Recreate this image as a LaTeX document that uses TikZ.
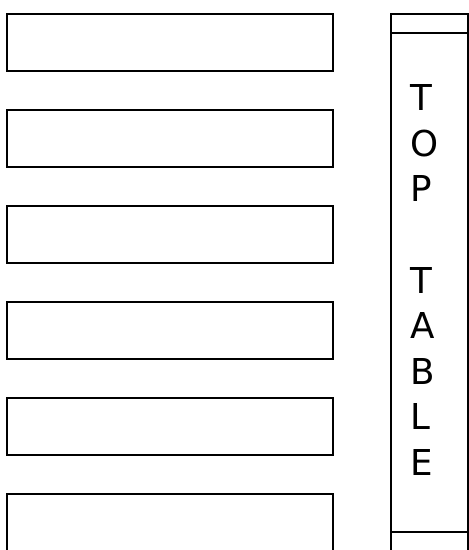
\documentclass[tikz,border=0pt]{standalone}
\usepackage{fontspec}
\newfontfamily\labelfont{DejaVu Sans}
\usetikzlibrary{positioning}

\begin{document}
\begin{tikzpicture}[
    x=0.02cm, y=-0.02cm,
    node distance=0.78cm,
    box/.style={rectangle, draw=black, line width=1.4pt, outer sep=0pt, minimum width=6.52cm, minimum height=1.14cm},
    column/.style={rectangle, draw=black, line width=1.4pt, outer sep=0pt, minimum width=1.54cm, minimum height=11.4cm},
    letter/.style={font=\labelfont\fontsize{20.3}{24}\selectfont, inner sep=0pt, anchor=base west}
]
\clip (0,0) rectangle (469,550);

% empty boxes on the left
\node[box, anchor=north west] (box1) at (7,14) {};
\foreach \i [evaluate=\i as \prev using int(\i-1)] in {2,...,6}
  \node[box, below=of box\prev] (box\i) {};

% top table column
\node[column, anchor=north west] (toptable) at (391,14) {};
\draw[line width=1.4pt] ([yshift=-0.38cm]toptable.north west) -- ([yshift=-0.38cm]toptable.north east);
\draw[line width=1.4pt] ([yshift=-10.36cm]toptable.north west) -- ([yshift=-10.36cm]toptable.north east);

\foreach \ch [count=\i] in {T,O,P,,T,A,B,L,E}
  \node[letter] (letter\i) at (410, {111+45.5*(\i-1)}) {\ch};
\end{tikzpicture}
\end{document}
